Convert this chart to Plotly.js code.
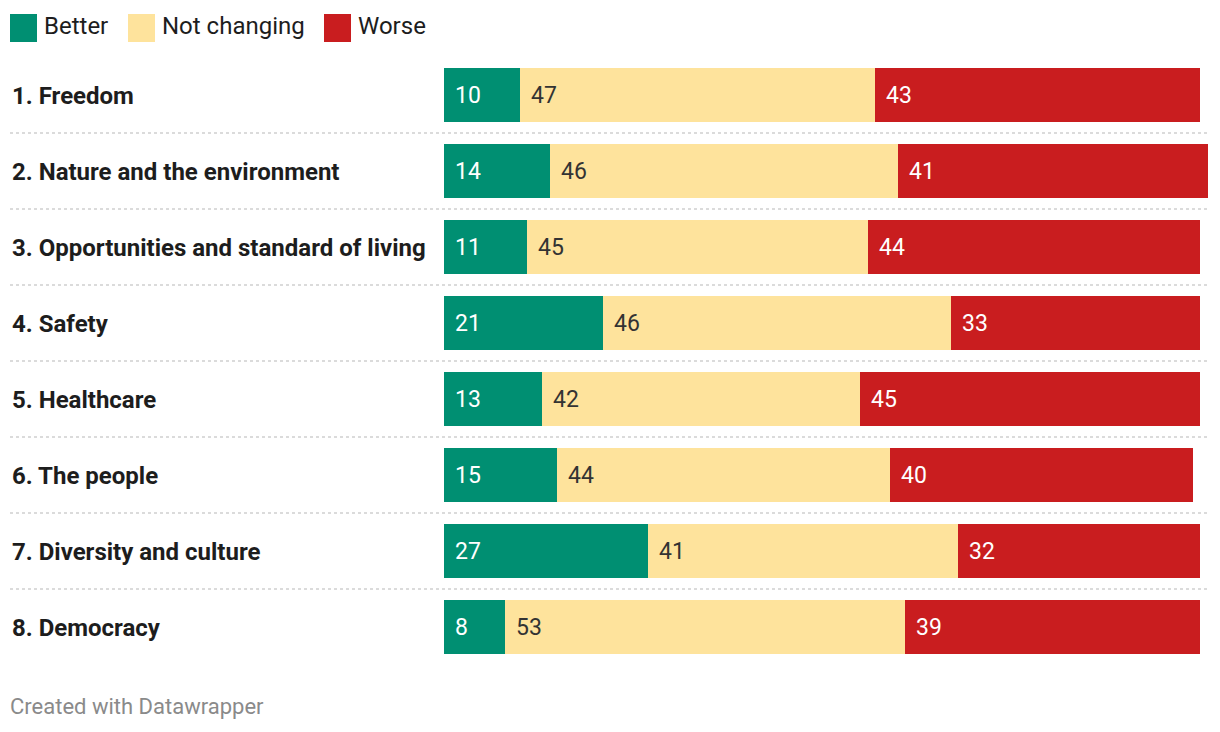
<!DOCTYPE html>
<html>
<head>
<meta charset="utf-8">
<script src="https://cdn.plot.ly/plotly-3.0.1.min.js"></script>
<style>
html,body{margin:0;padding:0;background:#fff;}
#chart{width:1220px;height:732px;}
</style>
</head>
<body>
<div id="chart"></div>
<script>
const categories = [
  "1. Freedom",
  "2. Nature and the environment",
  "3. Opportunities and standard of living",
  "4. Safety",
  "5. Healthcare",
  "6. The people",
  "7. Diversity and culture",
  "8. Democracy"
];
const seriesNames = ["Better", "Not changing", "Worse"];
const better = [10, 14, 11, 21, 13, 15, 27, 8];
const notChanging = [47, 46, 45, 46, 42, 44, 41, 53];
const worse = [43, 41, 44, 33, 45, 40, 32, 39];
const seriesValues = [better, notChanging, worse];
const seriesColors = ["#008f72", "#fee39c", "#c91d1f"];
const labelColors = ["#ffffff", "#333333", "#ffffff"];
const footer = "Created with Datawrapper";

const FONT = "Roboto, 'Noto Sans', sans-serif";
const L = 444, T = 57, W = 1220, H = 732;

const traces = seriesValues.map((vals, s) => ({
  type: "bar",
  orientation: "h",
  name: seriesNames[s],
  y: categories,
  x: vals,
  width: 0.71,
  marker: {color: seriesColors[s], line: {width: 0}},
  hoverinfo: "skip",
  showlegend: false
}));

const annotations = [];
const shapes = [];

// category labels
categories.forEach(c => {
  annotations.push({
    xref: "paper", x: 0, xanchor: "left", xshift: 10 - L,
    yref: "y", y: c, yanchor: "middle", yshift: -1,
    text: "<b>" + c + "</b>", showarrow: false,
    font: {family: FONT, size: 24, color: "#1d1d1d"}
  });
});

// value labels
categories.forEach((c, i) => {
  let start = 0;
  seriesValues.forEach((vals, s) => {
    annotations.push({
      xref: "x", x: start, xanchor: "left", xshift: 9,
      yref: "y", y: c, yanchor: "middle",
      text: String(vals[i]), showarrow: false,
      font: {family: FONT, size: 23, color: labelColors[s]}
    });
    start += vals[i];
  });
});

// separators
for (let i = 0; i < categories.length - 1; i++) {
  shapes.push({
    type: "line", xref: "paper", xsizemode: "pixel", xanchor: 0,
    x0: 10 - L, x1: 1208 - L,
    yref: "y", y0: i + 0.5, y1: i + 0.5,
    line: {color: "#cfcfcf", width: 1.5, dash: "dot"}
  });
}

// legend
const legX = [10, 128, 324];
seriesNames.forEach((n, s) => {
  shapes.push({
    type: "rect", xref: "paper", xsizemode: "pixel", xanchor: 0,
    x0: legX[s] - L, x1: legX[s] + 27 - L,
    yref: "paper", ysizemode: "pixel", yanchor: 1,
    y0: T - 42, y1: T - 14,
    fillcolor: seriesColors[s], line: {width: 0}
  });
  annotations.push({
    xref: "paper", x: 0, xanchor: "left", xshift: legX[s] + 32 - L,
    yref: "paper", y: 1, yanchor: "middle", yshift: T - 26,
    text: n, showarrow: false,
    font: {family: FONT, size: 24, color: "#1d1d1d"}
  });
});

// footer
annotations.push({
  xref: "paper", x: 0, xanchor: "left", xshift: 8 - L,
  yref: "paper", y: 0, yanchor: "middle", yshift: -(706 - (H - 67)),
  text: footer, showarrow: false,
  font: {family: FONT, size: 22, color: "#8a8a8a"}
});

const layout = {
  width: W, height: H,
  margin: {l: L, r: 12, t: T, b: 67, pad: 0},
  barmode: "stack",
  bargap: 0,
  paper_bgcolor: "#ffffff",
  plot_bgcolor: "#ffffff",
  xaxis: {range: [0, 101], visible: false, fixedrange: true},
  yaxis: {type: "category", autorange: "reversed", visible: false, fixedrange: true},
  showlegend: false,
  annotations: annotations,
  shapes: shapes,
  font: {family: FONT}
};

Plotly.newPlot("chart", traces, layout, {displayModeBar: false, staticPlot: true});
</script>
</body>
</html>
